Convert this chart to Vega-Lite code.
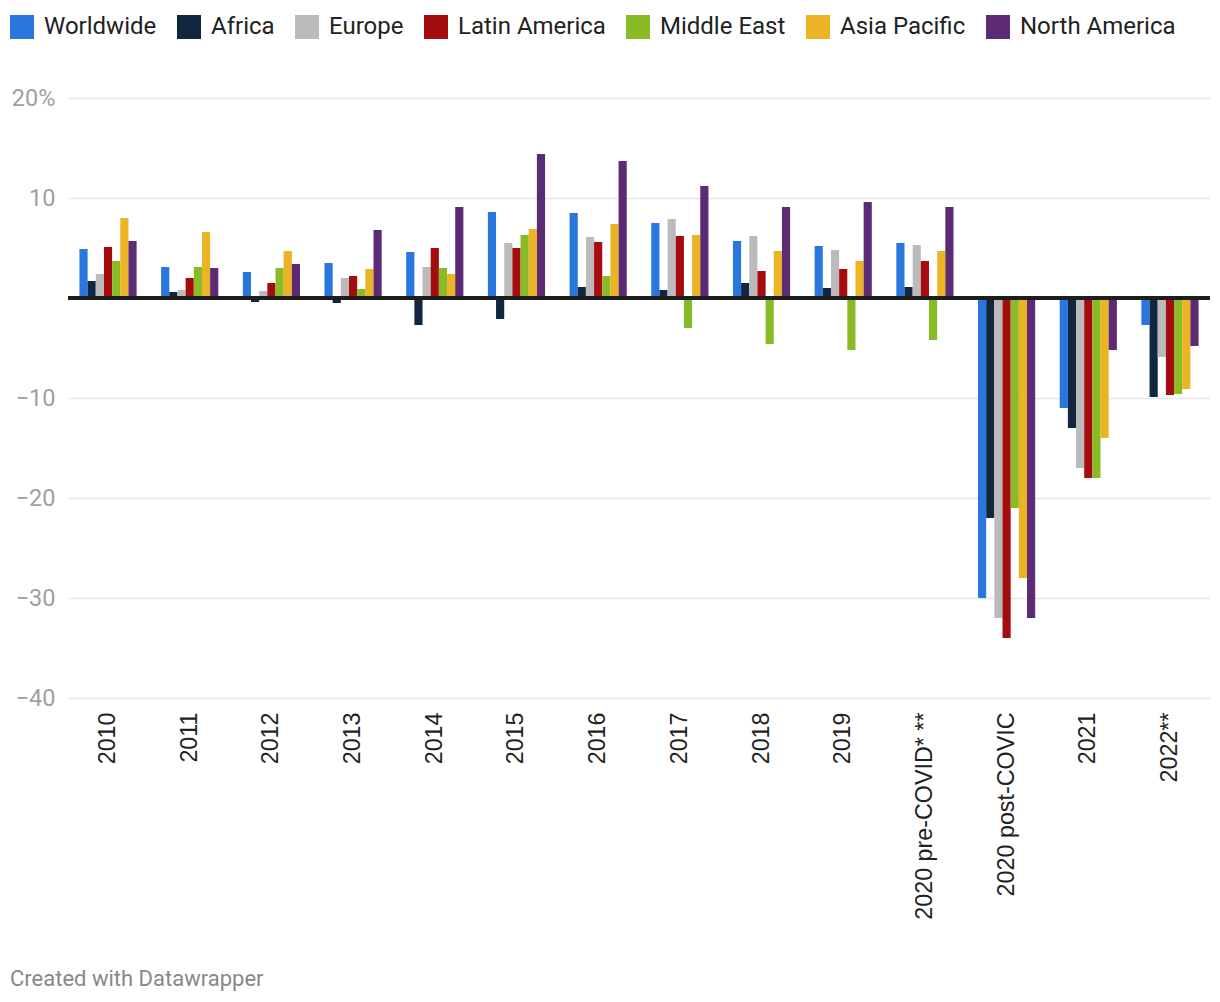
{
  "$schema": "https://vega.github.io/schema/vega-lite/v6.json",
  "width": 1142,
  "height": 600,
  "autosize": {"type": "none"},
  "padding": {"left": 68, "top": 98, "right": 10, "bottom": 304},
  "background": "white",
  "config": {
    "view": {"stroke": null},
    "font": "Roboto"
  },
  "title": {
    "text": "Created with Datawrapper",
    "orient": "bottom",
    "anchor": "start",
    "frame": "group",
    "dx": -58,
    "offset": 50,
    "font": "Roboto",
    "fontSize": 22,
    "fontWeight": "normal",
    "color": "#888888"
  },
  "data": {
    "values": [
      {"cat": "2010", "region": "Worldwide", "value": 4.9},
      {"cat": "2010", "region": "Africa", "value": 1.7},
      {"cat": "2010", "region": "Europe", "value": 2.4},
      {"cat": "2010", "region": "Latin America", "value": 5.1},
      {"cat": "2010", "region": "Middle East", "value": 3.7},
      {"cat": "2010", "region": "Asia Pacific", "value": 8.0},
      {"cat": "2010", "region": "North America", "value": 5.7},
      {"cat": "2011", "region": "Worldwide", "value": 3.1},
      {"cat": "2011", "region": "Africa", "value": 0.6},
      {"cat": "2011", "region": "Europe", "value": 0.8},
      {"cat": "2011", "region": "Latin America", "value": 2.0},
      {"cat": "2011", "region": "Middle East", "value": 3.1},
      {"cat": "2011", "region": "Asia Pacific", "value": 6.6},
      {"cat": "2011", "region": "North America", "value": 3.0},
      {"cat": "2012", "region": "Worldwide", "value": 2.6},
      {"cat": "2012", "region": "Africa", "value": -0.4},
      {"cat": "2012", "region": "Europe", "value": 0.7},
      {"cat": "2012", "region": "Latin America", "value": 1.5},
      {"cat": "2012", "region": "Middle East", "value": 3.0},
      {"cat": "2012", "region": "Asia Pacific", "value": 4.7},
      {"cat": "2012", "region": "North America", "value": 3.4},
      {"cat": "2013", "region": "Worldwide", "value": 3.5},
      {"cat": "2013", "region": "Africa", "value": -0.5},
      {"cat": "2013", "region": "Europe", "value": 2.0},
      {"cat": "2013", "region": "Latin America", "value": 2.2},
      {"cat": "2013", "region": "Middle East", "value": 0.9},
      {"cat": "2013", "region": "Asia Pacific", "value": 2.9},
      {"cat": "2013", "region": "North America", "value": 6.8},
      {"cat": "2014", "region": "Worldwide", "value": 4.6},
      {"cat": "2014", "region": "Africa", "value": -2.7},
      {"cat": "2014", "region": "Europe", "value": 3.1},
      {"cat": "2014", "region": "Latin America", "value": 5.0},
      {"cat": "2014", "region": "Middle East", "value": 3.0},
      {"cat": "2014", "region": "Asia Pacific", "value": 2.4},
      {"cat": "2014", "region": "North America", "value": 9.1},
      {"cat": "2015", "region": "Worldwide", "value": 8.6},
      {"cat": "2015", "region": "Africa", "value": -2.1},
      {"cat": "2015", "region": "Europe", "value": 5.5},
      {"cat": "2015", "region": "Latin America", "value": 5.0},
      {"cat": "2015", "region": "Middle East", "value": 6.3},
      {"cat": "2015", "region": "Asia Pacific", "value": 6.9},
      {"cat": "2015", "region": "North America", "value": 14.4},
      {"cat": "2016", "region": "Worldwide", "value": 8.5},
      {"cat": "2016", "region": "Africa", "value": 1.1},
      {"cat": "2016", "region": "Europe", "value": 6.1},
      {"cat": "2016", "region": "Latin America", "value": 5.6},
      {"cat": "2016", "region": "Middle East", "value": 2.2},
      {"cat": "2016", "region": "Asia Pacific", "value": 7.4},
      {"cat": "2016", "region": "North America", "value": 13.7},
      {"cat": "2017", "region": "Worldwide", "value": 7.5},
      {"cat": "2017", "region": "Africa", "value": 0.8},
      {"cat": "2017", "region": "Europe", "value": 7.9},
      {"cat": "2017", "region": "Latin America", "value": 6.2},
      {"cat": "2017", "region": "Middle East", "value": -3.0},
      {"cat": "2017", "region": "Asia Pacific", "value": 6.3},
      {"cat": "2017", "region": "North America", "value": 11.2},
      {"cat": "2018", "region": "Worldwide", "value": 5.7},
      {"cat": "2018", "region": "Africa", "value": 1.5},
      {"cat": "2018", "region": "Europe", "value": 6.2},
      {"cat": "2018", "region": "Latin America", "value": 2.7},
      {"cat": "2018", "region": "Middle East", "value": -4.6},
      {"cat": "2018", "region": "Asia Pacific", "value": 4.7},
      {"cat": "2018", "region": "North America", "value": 9.1},
      {"cat": "2019", "region": "Worldwide", "value": 5.2},
      {"cat": "2019", "region": "Africa", "value": 1.0},
      {"cat": "2019", "region": "Europe", "value": 4.8},
      {"cat": "2019", "region": "Latin America", "value": 2.9},
      {"cat": "2019", "region": "Middle East", "value": -5.2},
      {"cat": "2019", "region": "Asia Pacific", "value": 3.7},
      {"cat": "2019", "region": "North America", "value": 9.6},
      {"cat": "2020 pre-COVID* **", "region": "Worldwide", "value": 5.5},
      {"cat": "2020 pre-COVID* **", "region": "Africa", "value": 1.1},
      {"cat": "2020 pre-COVID* **", "region": "Europe", "value": 5.3},
      {"cat": "2020 pre-COVID* **", "region": "Latin America", "value": 3.7},
      {"cat": "2020 pre-COVID* **", "region": "Middle East", "value": -4.2},
      {"cat": "2020 pre-COVID* **", "region": "Asia Pacific", "value": 4.7},
      {"cat": "2020 pre-COVID* **", "region": "North America", "value": 9.1},
      {"cat": "2020 post-COVIC", "region": "Worldwide", "value": -30},
      {"cat": "2020 post-COVIC", "region": "Africa", "value": -22},
      {"cat": "2020 post-COVIC", "region": "Europe", "value": -32},
      {"cat": "2020 post-COVIC", "region": "Latin America", "value": -34},
      {"cat": "2020 post-COVIC", "region": "Middle East", "value": -21},
      {"cat": "2020 post-COVIC", "region": "Asia Pacific", "value": -28},
      {"cat": "2020 post-COVIC", "region": "North America", "value": -32},
      {"cat": "2021", "region": "Worldwide", "value": -11},
      {"cat": "2021", "region": "Africa", "value": -13},
      {"cat": "2021", "region": "Europe", "value": -17},
      {"cat": "2021", "region": "Latin America", "value": -18},
      {"cat": "2021", "region": "Middle East", "value": -18},
      {"cat": "2021", "region": "Asia Pacific", "value": -14},
      {"cat": "2021", "region": "North America", "value": -5.2},
      {"cat": "2022**", "region": "Worldwide", "value": -2.7},
      {"cat": "2022**", "region": "Africa", "value": -9.9},
      {"cat": "2022**", "region": "Europe", "value": -5.9},
      {"cat": "2022**", "region": "Latin America", "value": -9.7},
      {"cat": "2022**", "region": "Middle East", "value": -9.6},
      {"cat": "2022**", "region": "Asia Pacific", "value": -9.1},
      {"cat": "2022**", "region": "North America", "value": -4.8}
    ]
  },
  "layer": [
    {
      "mark": {"type": "bar", "cornerRadius": 0},
      "encoding": {
        "x": {
          "field": "cat",
          "type": "nominal",
          "sort": ["2010", "2011", "2012", "2013", "2014", "2015", "2016", "2017", "2018", "2019", "2020 pre-COVID* **", "2020 post-COVIC", "2021", "2022**"],
          "scale": {"paddingInner": 0.3, "paddingOuter": 0.14},
          "axis": {
            "title": null,
            "domain": false,
            "ticks": false,
            "labelAngle": 270,
            "labelPadding": 14,
            "labelFont": "Liberation Sans",
            "labelFontSize": 23.3,
            "labelColor": "#222222",
            "labelLimit": 400
          }
        },
        "xOffset": {
          "field": "region",
          "type": "nominal",
          "sort": ["Worldwide", "Africa", "Europe", "Latin America", "Middle East", "Asia Pacific", "North America"],
          "scale": {"paddingInner": 0, "paddingOuter": 0}
        },
        "y": {
          "field": "value",
          "type": "quantitative",
          "scale": {"domain": [-40, 20], "nice": false, "zero": false},
          "axis": {
            "title": null,
            "values": [-40, -30, -20, -10, 10, 20],
            "labelExpr": "datum.value == 20 ? '20%' : datum.label",
            "domain": false,
            "ticks": false,
            "labelPadding": 13,
            "labelFont": "Roboto",
            "labelFontSize": 23.5,
            "labelColor": "#a0a0a0",
            "gridColor": "#e6e6e6",
            "gridWidth": 1.5
          }
        },
        "color": {
          "field": "region",
          "type": "nominal",
          "scale": {
            "domain": ["Worldwide", "Africa", "Europe", "Latin America", "Middle East", "Asia Pacific", "North America"],
            "range": ["#2976de", "#11273f", "#bbbbbb", "#a50c0e", "#89bb26", "#ebb425", "#5c2b74"]
          },
          "legend": {
            "title": null,
            "orient": "none",
            "direction": "horizontal",
            "columns": 7,
            "legendX": -58,
            "legendY": -83,
            "symbolType": "square",
            "symbolSize": 576,
            "symbolStrokeWidth": 0,
            "symbolOpacity": 1,
            "labelFont": "Roboto",
            "labelFontSize": 24,
            "labelColor": "#222222",
            "labelOffset": 10,
            "columnPadding": 20,
            "labelLimit": 300
          }
        }
      }
    },
    {
      "mark": {"type": "rule", "color": "#1e1e1e", "strokeWidth": 2.5},
      "encoding": {"y": {"datum": 0}}
    }
  ]
}
